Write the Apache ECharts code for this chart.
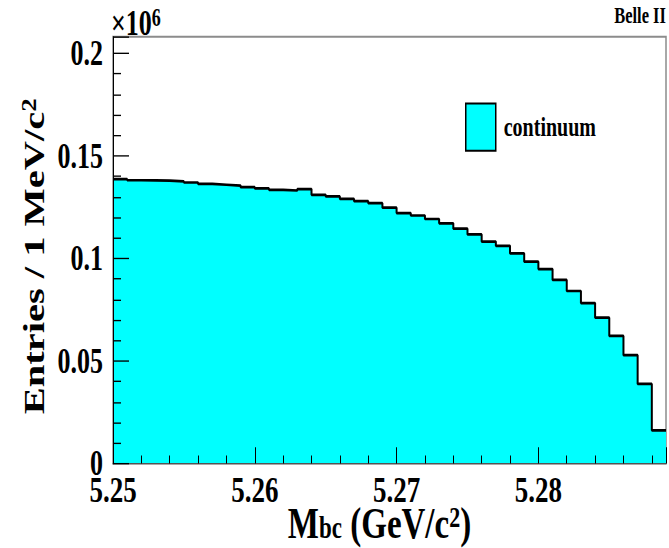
<!DOCTYPE html>
<html><head><meta charset="utf-8">
<script src="https://cdn.jsdelivr.net/npm/echarts@6/dist/echarts.min.js"></script>
<style>
html,body{margin:0;padding:0;background:#fff;overflow:hidden;}
#wrap{width:669px;height:548px;overflow:hidden;}
#main{width:669px;height:406px;transform:scaleY(1.349754);transform-origin:0 0;}
</style></head><body><div id="wrap"><div id="main"></div></div>
<script>
// bin edges of M_bc (GeV/c^2), 1 MeV bins
const binEdges = [5.250,5.251,5.252,5.253,5.254,5.255,5.256,5.257,5.258,5.259,
                  5.260,5.261,5.262,5.263,5.264,5.265,5.266,5.267,5.268,5.269,
                  5.270,5.271,5.272,5.273,5.274,5.275,5.276,5.277,5.278,5.279,
                  5.280,5.281,5.282,5.283,5.284,5.285,5.286,5.287,5.288,5.289];
// entries per bin (x10^6)
const entries = [0.1386,0.1381,0.1380,0.1379,0.1375,0.1370,0.1363,0.1359,0.1355,0.1347,
                 0.1341,0.1334,0.1331,0.1338,0.1310,0.1302,0.1290,0.1279,0.1269,0.1247,
                 0.1221,0.1209,0.1192,0.1171,0.1145,0.1117,0.1082,0.1061,0.1024,0.0984,
                 0.0948,0.0895,0.0841,0.0782,0.0711,0.0622,0.0528,0.0388,0.0162];
const xTickLabels = ['5.25','5.26','5.27','5.28'];
const yTickLabels = ['0','0.05','0.1','0.15','0.2'];
const seriesName = 'continuum';

const FONT = '"Liberation Serif","Times New Roman",serif';
const histData = binEdges.map((x, i) => [x, entries[Math.min(i, entries.length - 1)]]);

const chart = echarts.init(document.getElementById('main'), null, {renderer: 'svg'});
chart.setOption({
  animation: false,
  backgroundColor: '#fff',
  title: [
    {text: 'Belle II', right: 3, top: 3, padding: 0,
     textStyle: {fontFamily: FONT, fontWeight: 'bold', fontSize: 16.5, color: '#000'}},
    {text: '{a|×10}{s|6}', left: 111, top: 4, padding: 0,
     textStyle: {rich: {
       a: {fontFamily: FONT, fontSize: 26, color: '#000', lineHeight: 26, verticalAlign: 'bottom'},
       s: {fontFamily: FONT, fontSize: 18, color: '#000', lineHeight: 10, verticalAlign: 'top'}
     }}}
  ],
  legend: {
    data: [{name: seriesName, icon: 'rect',
            itemStyle: {color: '#00ffff', borderColor: '#000', borderWidth: 1.5}}],
    left: 465, top: 76, itemWidth: 30, itemHeight: 35, selectedMode: false,
    padding: 0,
    textStyle: {fontFamily: FONT, fontWeight: 'bold', fontSize: 20, color: '#000', padding: [0,0,0,3]}
  },
  grid: {left: 113, right: 3, top: 27.3, bottom: 62.6, show: true,
         outerBoundsMode: 'none', containLabel: false,
         borderColor: '#8c8c8c', borderWidth: 1.5, backgroundColor: 'transparent'},
  xAxis: {
    type: 'value', min: 5.25, max: 5.289, interval: 0.01, z: 10,
    name: '{m|M}{b|bc}{m| (GeV/c}{s|2}{m|)}', nameLocation: 'middle', nameGap: 29,
    nameMoveOverlap: false,
    nameTextStyle: {padding: [0, 20, 0, 0], rich: {
      m: {fontFamily: FONT, fontWeight: 'bold', fontSize: 33, color: '#000', lineHeight: 30},
      b: {fontFamily: FONT, fontWeight: 'bold', fontSize: 23, color: '#000', lineHeight: 8, verticalAlign: 'bottom'},
      s: {fontFamily: FONT, fontWeight: 'bold', fontSize: 22, color: '#000', lineHeight: 8, verticalAlign: 'top'}
    }},
    axisLine: {show: true, onZero: false, lineStyle: {color: '#555', width: 1}},
    axisTick: {show: true, inside: true, length: 12, lineStyle: {color: '#000', width: 1}},
    minorTick: {show: true, splitNumber: 5, length: 6, lineStyle: {color: '#000', width: 1}},
    splitLine: {show: false},
    axisLabel: {margin: 6, fontFamily: FONT, fontWeight: 'bold', fontSize: 27, color: '#000',
                showMaxLabel: false,
                formatter: v => { const i = Math.round((v - 5.25) / 0.01); return xTickLabels[i] || ''; }}
  },
  yAxis: {
    type: 'value', min: 0, max: 0.208, interval: 0.05, z: 10,
    name: '{m|Entries / 1 MeV/c}{s|2}', nameLocation: 'middle', nameGap: 64, nameRotate: 90,
    nameMoveOverlap: false,
    nameTextStyle: {padding: [0, 9, 0, 0], rich: {
      m: {fontFamily: FONT, fontWeight: 'bold', fontSize: 30, color: '#000', lineHeight: 30},
      s: {fontFamily: FONT, fontWeight: 'bold', fontSize: 20, color: '#000', lineHeight: 8, verticalAlign: 'top'}
    }},
    axisLine: {show: true, onZero: false, lineStyle: {color: '#000', width: 1}},
    axisTick: {show: true, inside: true, length: 16, lineStyle: {color: '#000', width: 1}},
    minorTick: {show: true, splitNumber: 5, length: 8, lineStyle: {color: '#000', width: 1}},
    splitLine: {show: false},
    axisLabel: {margin: 10, fontFamily: FONT, fontWeight: 'bold', fontSize: 26, color: '#000',
                showMaxLabel: false,
                formatter: v => { const i = Math.round(v / 0.05); return yTickLabels[i] || ''; }}
  },
  series: [{
    name: seriesName, type: 'line', step: 'end', symbol: 'none', data: histData,
    itemStyle: {color: '#00ffff'},
    lineStyle: {color: '#000', width: 2},
    areaStyle: {color: '#00ffff', opacity: 1},
    z: 2
  }]
});
</script></body></html>
